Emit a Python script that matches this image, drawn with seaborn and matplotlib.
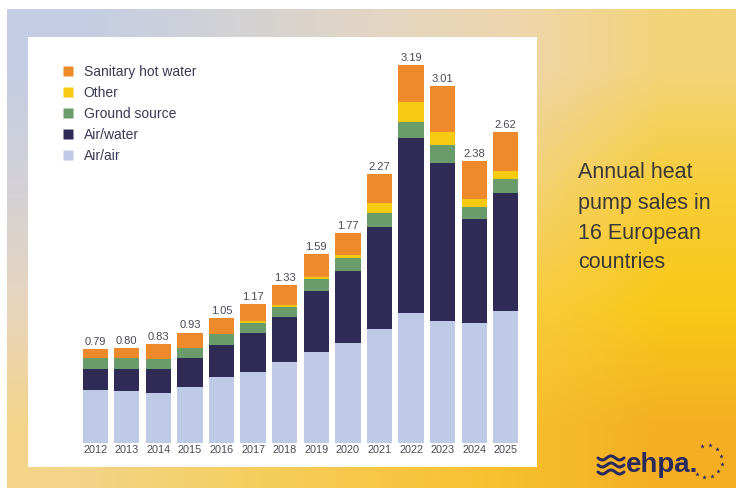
import numpy as np
import matplotlib
matplotlib.use("Agg")
import matplotlib.pyplot as plt
import seaborn as sns
from matplotlib.lines import Line2D
from matplotlib.patches import Rectangle
from matplotlib.colors import to_rgb

# ---------------- data (million units) ----------------
years = [str(y) for y in range(2012, 2026)]
air_air            = [0.445, 0.439, 0.417, 0.473, 0.557, 0.600, 0.684, 0.769, 0.840, 0.958, 1.093, 1.030, 1.014, 1.112]
air_water          = [0.175, 0.181, 0.203, 0.240, 0.272, 0.324, 0.375, 0.512, 0.610, 0.866, 1.478, 1.335, 0.875, 0.999]
ground_source      = [0.093, 0.093, 0.084, 0.084, 0.085, 0.084, 0.090, 0.099, 0.113, 0.119, 0.135, 0.149, 0.104, 0.114]
other              = [0.005, 0.005, 0.005, 0.005, 0.008, 0.020, 0.014, 0.017, 0.022, 0.079, 0.169, 0.108, 0.065, 0.070]
sanitary_hot_water = [0.072, 0.082, 0.121, 0.128, 0.128, 0.142, 0.167, 0.193, 0.185, 0.248, 0.315, 0.388, 0.322, 0.325]

series_names = ["Air/air", "Air/water", "Ground source", "Other", "Sanitary hot water"]
series_colors = ["#bfcbe6", "#2f2a56", "#6a9b6a", "#f6ca10", "#ee8a2c"]
title_lines = ["Annual heat", "pump sales in", "16 European", "countries"]

# ---------------- figure ----------------
W, H = 736, 488
sns.set_theme(style="white")
plt.rcParams["font.family"] = ["Liberation Sans", "DejaVu Sans"]
fig = plt.figure(figsize=(W / 100, H / 100), dpi=100, facecolor="white")

# background axes in pixel coordinates
bg = fig.add_axes([0, 0, 1, 1], zorder=0)
bg.set_xlim(0, W)
bg.set_ylim(H, 0)
bg.axis("off")

grid_hex = [
    ["#c4cde4", "#d2d2d6", "#e2d5c4", "#eed6ac", "#f4d47a"],
    ["#d4d1d6", "#e0d4c6", "#edd5aa", "#f4d27a", "#f7cd38"],
    ["#e8d5bc", "#f0d49c", "#f5d174", "#f8cc40", "#f9c918"],
    ["#f3d489", "#f5d065", "#f7c847", "#f7bf2c", "#f4ae22"],
]
grid = np.array([[to_rgb(c) for c in row] for row in grid_hex])
bg.imshow(grid, extent=(7, W, H, 9), aspect="auto", interpolation="bilinear")

# white panel
bg.add_patch(Rectangle((28, 37), 509, 430, facecolor="white", edgecolor="none"))

# title text
for i, line in enumerate(title_lines):
    bg.text(578, 173 + i * 30, line, fontsize=15.5, color="#3a3836",
            ha="left", va="center")

# logo
xs = np.linspace(598, 624, 60)
for yy in [458, 465, 472]:
    bg.plot(xs, yy + 2.0 * np.sin((xs - 598) / 26 * 2 * np.pi * 1.5), color="#2b2a5c",
            lw=2.2, solid_capstyle="round")
bg.text(626, 465, "ehpa.", fontsize=20, fontweight="bold", color="#2b2a5c",
        ha="left", va="center")
ang = np.deg2rad(np.linspace(105, -125, 9))
bg.scatter(706 + 16 * np.cos(ang), 461 - 16 * np.sin(ang), marker="*", s=12,
           color="#2b2a5c", linewidths=0)

# ---------------- chart ----------------
ax = fig.add_axes([79.4 / W, (H - 442.7) / H, 442.2 / W, (442.7 - 40.1) / H], zorder=1)
ax.patch.set_alpha(0)

layers = [air_air, air_water, ground_source, other, sanitary_hot_water]
cum = np.cumsum(np.array(layers), axis=0)
for idx in range(len(layers) - 1, -1, -1):
    sns.barplot(x=years, y=cum[idx], color=series_colors[idx], saturation=1,
                width=0.8, order=years, ax=ax, linewidth=0)

totals = cum[-1]
for i, t in enumerate(totals):
    ax.text(i, t + 0.02, f"{t:.2f}", ha="center", va="bottom", fontsize=8,
            color="#4a4a58")

ax.set_ylim(0, 3.4)
ax.set_xlim(-0.5, len(years) - 0.5)
ax.set_yticks([])
ax.set_xlabel("")
ax.set_ylabel("")
ax.tick_params(axis="x", length=0, pad=2, labelsize=7.8, labelcolor="#4a4a58")
for s in ax.spines.values():
    s.set_visible(False)

handles = [Line2D([0], [0], marker="s", linestyle="", markersize=7,
                  markerfacecolor=series_colors[i], markeredgecolor="none")
           for i in range(len(series_names) - 1, -1, -1)]
labels = [series_names[i] for i in range(len(series_names) - 1, -1, -1)]
leg = fig.legend(handles, labels, loc="upper left",
                 bbox_to_anchor=(62 / W, 1 - 65 / H), frameon=False,
                 fontsize=10, handlelength=0.8, handletextpad=0.75,
                 labelspacing=0.5, borderpad=0, borderaxespad=0)
for txt in leg.get_texts():
    txt.set_color("#3a3a55")

fig.savefig("out.png", dpi=100, facecolor="white")
